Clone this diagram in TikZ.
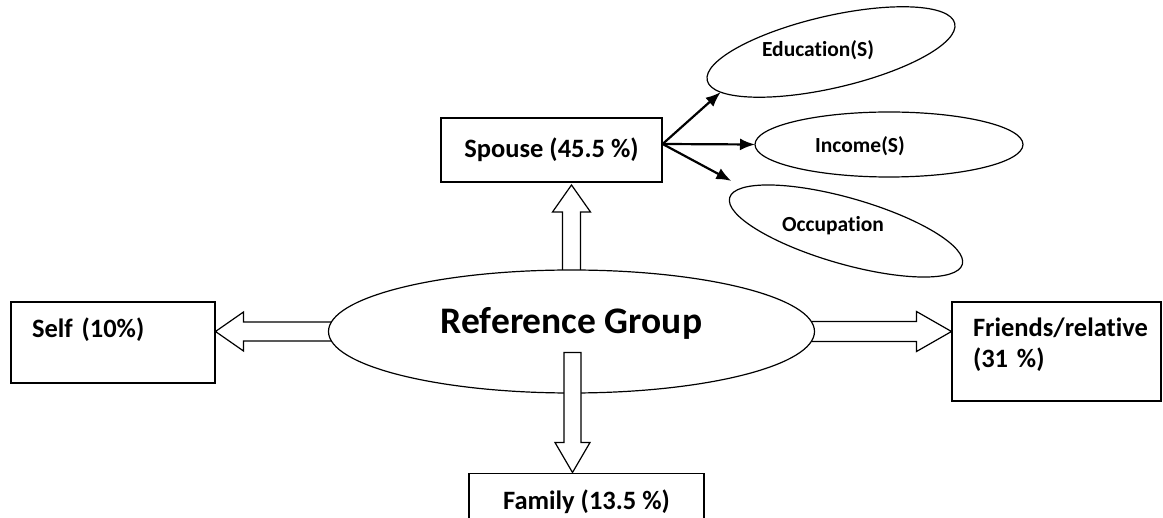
\documentclass[tikz,border=0pt]{standalone}
\usepackage{fontspec}
\setmainfont{Carlito}[Ligatures=NoCommon]
\usetikzlibrary{shapes.geometric,arrows.meta}

\begin{document}
\begin{tikzpicture}[x=1pt, y=-1pt, >={Latex[length=15pt,width=12pt]},
    box/.style={draw, line width=1.2pt, rectangle, inner sep=0pt, font=\bfseries\fontsize{26.5}{31}\selectfont},
    oval/.style={draw, line width=1.2pt, ellipse, inner sep=0pt, outer sep=0pt},
    hollow/.style={draw, line width=1.2pt, line join=miter},
    small/.style={font=\bfseries\fontsize{21.5}{25}\selectfont}]
    \useasboundingbox (0,0) rectangle (1163,518);
    \clip (0,0) rectangle (1163,518);

    % elipse central
    \node[oval, minimum width=486pt, minimum height=123pt, text height=26pt, text depth=21pt,
        font=\bfseries\fontsize{37.5}{44}\selectfont] (rg) at (571.5,331.5) {Reference Group};

    % caixas
    \node[box, minimum width=221pt, minimum height=64pt] (spouse) at (551.5,150) {Spouse (45.5 \%)};
    \node[box, text width=162pt, inner xsep=21pt, text height=36pt, text depth=45pt]
        (self) at (113,342.5) {\mbox{Self (10\%)}\hfill};
    \node[box, text width=167pt, inner xsep=21pt, text height=35pt, text depth=64pt]
        (friends) at (1056.5,351.5) {\mbox{Friends/relative}\\(31 \%)};
    \node[box, anchor=north, minimum width=235pt, text height=36pt, text depth=44pt]
        (family) at (586.5,473) {Family (13.5 \%)};

    % elipses do spouse
    \node[oval, rotate=13, minimum width=254pt, minimum height=72pt] (edu) at (831,52) {};
    \node[small] (edutext) at (818,50) {Education(S)};
    \node[oval, minimum width=268pt, minimum height=65pt] (inc) at (889,144.5) {};
    \node[small] (inctext) at (860,146) {Income(S)};
    \node[oval, rotate=-16, minimum width=242pt, minimum height=66pt] (occ) at (846,231) {};
    \node[small] (occtext) at (833,226) {Occupation};

    % setas do spouse
    \coordinate (fork) at ([yshift=6pt]spouse.east);
    \draw[->, line width=2.2pt] (fork) -- (edu.187);
    \draw[->, line width=2.2pt] (fork) -- (inc.west);
    \draw[->, line width=2.2pt, shorten >=14pt] (fork) -- (occ.173);

    % setas vazadas
    \draw[hollow] (rg.north) ++(-9,0) -- ++(0,-58) -- ++(-10,0) -- ++(19,-27) -- ++(19,27) -- ++(-10,0) -- ++(0,58);
    \draw[hollow, fill=white] (rg.center) ++(-7.5,21) -- ++(0,90) -- ++(-9,0) -- ++(17.5,30) -- ++(17.5,-30) -- ++(-9,0) -- ++(0,-90) -- cycle;
    \draw[hollow] (rg.west) ++(3,-9.5) -- ++(-88,0) -- ++(0,-10) -- ++(-28,19.5) -- ++(28,19.5) -- ++(0,-10) -- ++(88,0);
    \draw[hollow] (rg.east) ++(-3,-10) -- ++(105,0) -- ++(0,-10) -- ++(35,20) -- ++(-35,20) -- ++(0,-10) -- ++(-105,0);

\end{tikzpicture}
\end{document}
